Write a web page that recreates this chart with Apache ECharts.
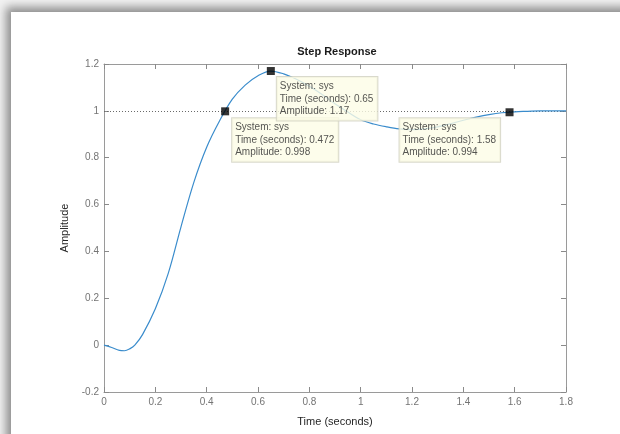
<!DOCTYPE html>
<html>
<head>
<meta charset="utf-8">
<script src="https://cdn.jsdelivr.net/npm/echarts@6/dist/echarts.min.js"></script>
<style>
  html, body { margin: 0; padding: 0; background: #f4f4f4; }
  #wrap { position: relative; width: 620px; height: 434px; overflow: hidden; background: #f2f2f2; }
  #panel { position: absolute; left: 11px; top: 12px; width: 660px; height: 460px; background: #ffffff;
           box-shadow: -3px -3px 9px 2px rgba(0,0,0,0.42); }
  #chart { position: absolute; left: 0; top: 0; width: 620px; height: 434px; }
</style>
</head>
<body>
<div id="wrap">
  <div id="panel"></div>
  <div id="chart"></div>
</div>
<script>
// Step response samples
var timeValues = [0, 0.03, 0.06, 0.08, 0.1, 0.12, 0.15, 0.2, 0.25, 0.3, 0.35, 0.4, 0.45, 0.5, 0.55, 0.6, 0.65,
                  0.7, 0.75, 0.8, 0.85, 0.9, 0.95, 1.0, 1.05, 1.1, 1.15, 1.2, 1.25, 1.3, 1.35, 1.4, 1.45,
                  1.5, 1.55, 1.6, 1.65, 1.7, 1.75, 1.8];
var amplitudeValues = [0, -0.01, -0.022, -0.024, -0.016, 0.0, 0.045, 0.155, 0.305, 0.505, 0.695, 0.845, 0.957, 1.05, 1.11, 1.15, 1.17,
                  1.158, 1.135, 1.105, 1.07, 1.03, 0.995, 0.962, 0.944, 0.932, 0.923, 0.92, 0.923, 0.932, 0.945, 0.96, 0.973,
                  0.984, 0.992, 0.996, 0.998, 1.0, 1.0, 1.0];
// Data tips
var tipTimes = [0.472, 0.65, 1.58];
var tipAmplitudes = [0.998, 1.17, 0.994];
var tipTimeLabels = ['0.472', '0.65', '1.58'];
var tipAmpLabels = ['0.998', '1.17', '0.994'];
var steadyState = 1;
var xTicks = ['0', '0.2', '0.4', '0.6', '0.8', '1', '1.2', '1.4', '1.6', '1.8'];
var yTicks = ['-0.2', '0', '0.2', '0.4', '0.6', '0.8', '1', '1.2'];

var FONT = '"Liberation Sans", Arial, Helvetica, sans-serif';
var chart = echarts.init(document.getElementById('chart'), null, { renderer: 'canvas' });

var curve = timeValues.map(function (t, i) { return [t, amplitudeValues[i]]; });
var tipPositions = [[11, 11], [10, 10], [-106, 10]];
var tips = tipTimes.map(function (t, i) {
  return {
    value: [t, tipAmplitudes[i]],
    label: {
      show: true,
      position: tipPositions[i],
      align: 'left',
      verticalAlign: 'top',
      formatter: 'System: sys\nTime (seconds): ' + tipTimeLabels[i] + '\nAmplitude: ' + tipAmpLabels[i]
    }
  };
});

var axisCommon = {
  type: 'value',
  splitLine: { show: false },
  axisLine: { show: true, onZero: false, lineStyle: { color: '#9a9a9a', width: 1 } },
  axisTick: { show: true, inside: true, length: 5, lineStyle: { color: '#8a8a8a' } }
};

chart.setOption({
  backgroundColor: 'transparent',
  animation: false,
  title: {
    text: 'Step Response',
    left: 332, textAlign: 'center', top: 41,
    textStyle: { fontFamily: FONT, fontSize: 11, fontWeight: 'bold', color: '#1a1a1a' }
  },
  grid: { left: 104, right: 54, top: 64, bottom: 42, containLabel: false },
  xAxis: [
    Object.assign({}, axisCommon, {
      position: 'bottom', min: 0, max: 1.8, interval: 0.2,
      name: 'Time (seconds)', nameLocation: 'middle', nameGap: 24,
      nameTextStyle: { fontFamily: FONT, fontSize: 11, color: '#262626' },
      axisLabel: { fontFamily: FONT, fontSize: 10, color: '#747474', margin: 5,
        formatter: function (v) { var i = Math.round(v / 0.2); return xTicks[i]; } }
    }),
    Object.assign({}, axisCommon, {
      position: 'top', min: 0, max: 1.8, interval: 0.2, axisLabel: { show: false }
    })
  ],
  yAxis: [
    Object.assign({}, axisCommon, {
      position: 'left', min: -0.2, max: 1.2, interval: 0.2,
      name: 'Amplitude', nameLocation: 'middle', nameGap: 31,
      nameTextStyle: { fontFamily: FONT, fontSize: 11, color: '#262626' },
      axisLabel: { fontFamily: FONT, fontSize: 10, color: '#747474', margin: 5,
        formatter: function (v) { var i = Math.round((v + 0.2) / 0.2); return yTicks[i]; } }
    }),
    Object.assign({}, axisCommon, {
      position: 'right', min: -0.2, max: 1.2, interval: 0.2, axisLabel: { show: false }
    })
  ],
  series: [
    {
      type: 'line',
      data: curve,
      smooth: 0.35,
      showSymbol: false,
      lineStyle: { color: '#3a8ccc', width: 1.2 },
      z: 3,
      markLine: {
        silent: true,
        symbol: ['none', 'none'],
        label: { show: false },
        lineStyle: { color: '#6a6a6a', type: [1, 2], width: 1 },
        data: [{ yAxis: steadyState }],
        z: 2
      }
    },
    {
      type: 'scatter',
      data: tips,
      symbol: 'rect',
      symbolSize: 8,
      itemStyle: { color: '#000000' },
      z: 5,
      label: {
        fontFamily: FONT, fontSize: 10, color: '#2a2a2a', lineHeight: 12.5,
        backgroundColor: '#fdfde6', borderColor: '#cfcfbf', borderWidth: 1,
        padding: [3, 4, 3, 3]
      }
    }
  ]
});
</script>
</body>
</html>
